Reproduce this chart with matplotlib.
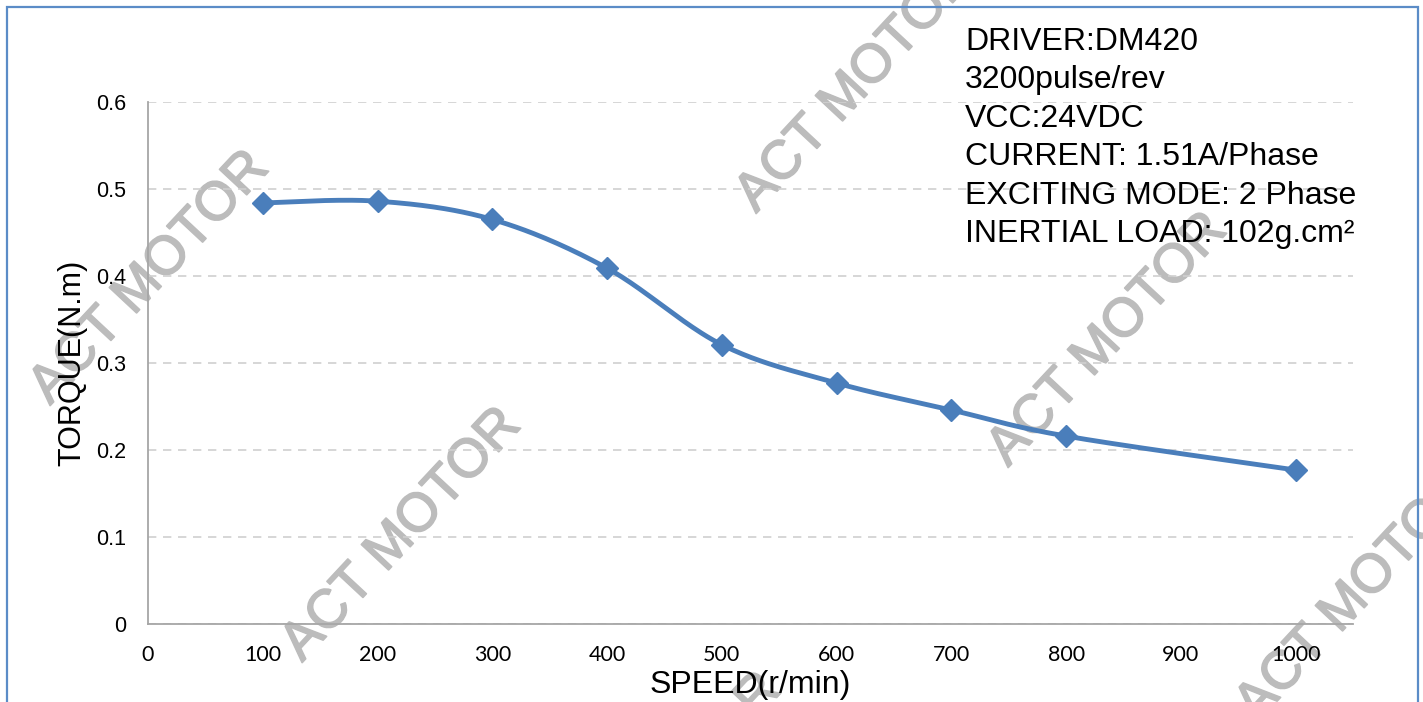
import numpy as np
import matplotlib.pyplot as plt
import matplotlib.patheffects as pe
from matplotlib.patches import Rectangle

speed = [100, 200, 300, 400, 500, 600, 700, 800, 1000]
torque = [0.484, 0.486, 0.465, 0.409, 0.321, 0.277, 0.246, 0.216, 0.177]
y_ticks = [0, 0.1, 0.2, 0.3, 0.4, 0.5, 0.6]
x_ticks = [0, 100, 200, 300, 400, 500, 600, 700, 800, 900, 1000]
info_lines = ["DRIVER:DM420", "3200pulse/rev", "VCC:24VDC",
              "CURRENT: 1.51A/Phase", "EXCITING MODE: 2 Phase",
              "INERTIAL LOAD: 102g.cm\u00b2"]
# watermark centres in pixels (x from left, y from top)
marks = [(150, 278), (856, 86), (402, 535), (1108, 340), (1356, 596), (662, 800)]

W, H = 1423, 702


def smooth(xs, ys, n=40):
    # Excel-style smoothed line: cubic Bezier with Catmull-Rom control points
    xs = np.asarray(xs, float)
    ys = np.asarray(ys, float)
    px = np.concatenate([[xs[0]], xs, [xs[-1]]])
    py = np.concatenate([[ys[0]], ys, [ys[-1]]])
    outx, outy = [], []
    t = np.linspace(0, 1, n)
    for i in range(1, len(px) - 2):
        p0 = np.array([px[i], py[i]])
        p3 = np.array([px[i + 1], py[i + 1]])
        c1 = p0 + (np.array([px[i + 1], py[i + 1]]) - np.array([px[i - 1], py[i - 1]])) / 6
        c2 = p3 - (np.array([px[i + 2], py[i + 2]]) - np.array([px[i], py[i]])) / 6
        b = ((1 - t) ** 3)[:, None] * p0 + (3 * (1 - t) ** 2 * t)[:, None] * c1 \
            + (3 * (1 - t) * t ** 2)[:, None] * c2 + (t ** 3)[:, None] * p3
        outx.extend(b[:, 0])
        outy.extend(b[:, 1])
    return outx, outy


fig = plt.figure(figsize=(W / 100, H / 100), dpi=100)
fig.patch.set_facecolor("white")

# outer frame
fig.patches.append(Rectangle((7 / W, -0.05), (1418 - 7) / W, 1.05 - 7 / H,
                             transform=fig.transFigure, fill=False,
                             edgecolor="#5b8cc7", linewidth=1.6))

ax = fig.add_axes([148 / W, 1 - 624 / H, (1353 - 148) / W, (624 - 102) / H])
ax.patch.set_alpha(0)
ax.set_xlim(0, 1050)
ax.set_ylim(0, 0.6)
ax.set_yticks(y_ticks)
ax.set_yticklabels(["0" if v == 0 else f"{v:.1f}" for v in y_ticks],
                   fontsize=15.5, family="Liberation Sans")
ax.set_xticks(x_ticks)
ax.set_xticklabels([str(v) for v in x_ticks], fontsize=15.5, family="Lato")
ax.tick_params(axis="x", length=0, pad=15)
ax.tick_params(axis="y", length=0, pad=16)
for s in ["top", "right"]:
    ax.spines[s].set_visible(False)
for s in ["left", "bottom"]:
    ax.spines[s].set_color("#a6a6a6")
    ax.spines[s].set_linewidth(1.3)
ax.grid(axis="y", linestyle=(0, (5, 4)), color="#d0d0d0", linewidth=1.2)
ax.set_axisbelow(True)

sx, sy = smooth(speed, torque)
ax.plot(sx, sy, color="#4a7ebb", linewidth=3.5, solid_capstyle="round", zorder=3)
ax.plot(speed, torque, linestyle="none", marker="D", markersize=11,
        color="#4a7ebb", zorder=4)

ax.set_xlabel("SPEED(r/min)", fontsize=23, family="Liberation Sans", labelpad=4)
ax.set_ylabel("TORQUE(N.m)", fontsize=22, family="Liberation Sans", labelpad=6)

for i, line in enumerate(info_lines):
    fig.text(965 / W, 1 - (42 + i * 38.4) / H, line, fontsize=23,
             family="Liberation Sans", va="center", ha="left", zorder=5)

wm_color = "#bcbcbc"
for cx, cy in marks:
    fig.text(cx / W, 1 - cy / H, "ACT MOTOR", fontsize=39, family="Liberation Sans",
             color=wm_color, rotation=47, ha="center", va="center",
             rotation_mode="anchor", zorder=-1,
             path_effects=[pe.withStroke(linewidth=1.2, foreground=wm_color)])

fig.savefig("out.png", dpi=100)
